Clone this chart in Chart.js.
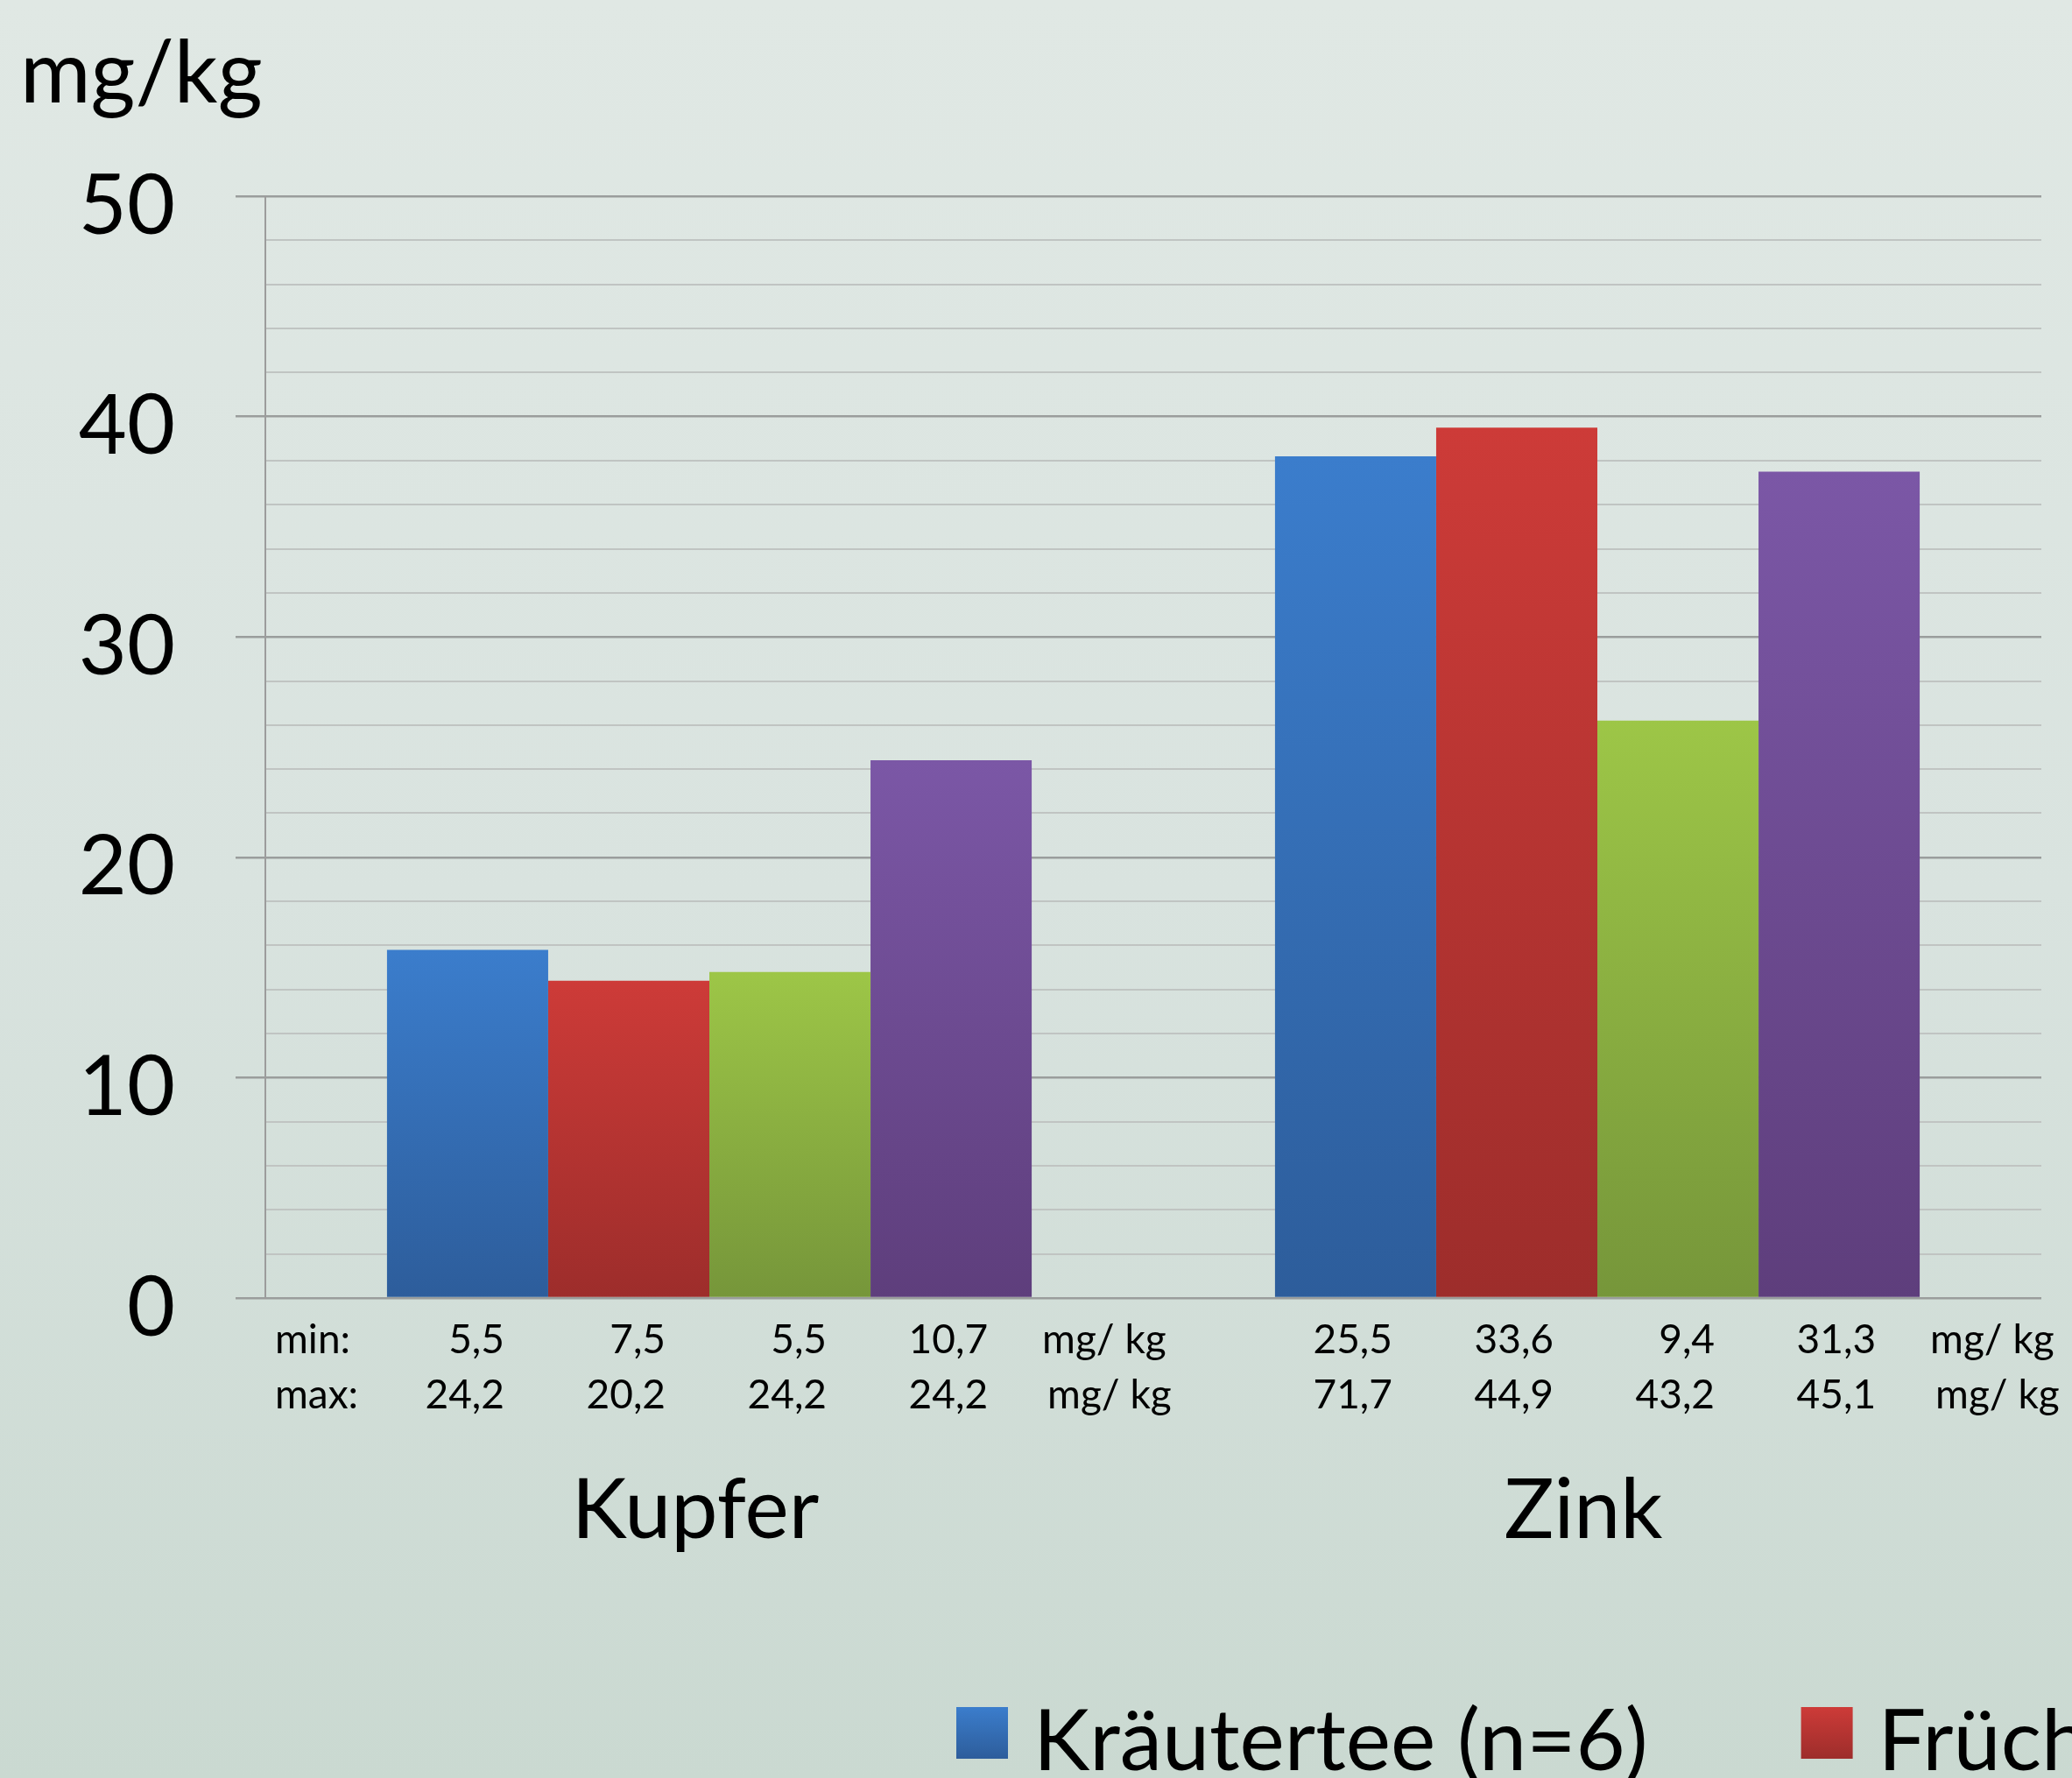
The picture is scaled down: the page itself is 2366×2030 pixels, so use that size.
<!DOCTYPE html>
<html lang="de">
<head>
<meta charset="UTF-8" />
<title>Kupfer und Zink in Tee</title>
<style>
  html, body { margin: 0; padding: 0; }
  body {
    width: 2366px; height: 2030px; overflow: hidden;
    background: linear-gradient(to bottom, #e0e8e4 0%, #d9e3df 50%, #cad9d1 100%);
  }
  canvas { display: block; }
</style>
</head>
<body>
<canvas id="teaChart" width="2366" height="2030"></canvas>

<script src="https://cdn.jsdelivr.net/npm/chart.js"></script>
<script>
  // Data
  const categories = ['Kupfer', 'Zink'];
  const seriesNames = ['Kräutertee (n=6)', 'Früchtetee (n=6)', 'Grüner Tee (n=6)', 'Schwarzer Tee (n=6)'];
  const kraeutertee = [15.8, 38.2];
  const fruechtetee = [14.4, 39.5];
  const gruenerTee = [14.8, 26.2];
  const schwarzerTee = [24.4, 37.5];
  const minValues = [[5.5, 25.5], [7.5, 33.6], [5.5, 9.4], [10.7, 31.3]];
  const maxValues = [[24.2, 71.7], [20.2, 44.9], [24.2, 43.2], [24.2, 45.1]];
  const unitLabel = 'mg/ kg';
  const axisTitle = 'mg/kg';

  const barTop = ['#3b7dcc', '#cd3b38', '#9dc647', '#7b57a6'];
  const barBottom = ['#2d5d9b', '#9d2d2b', '#76963a', '#5e3e7c'];

  Chart.defaults.font.family = 'Lato, "Open Sans", sans-serif';
  Chart.defaults.color = '#000';

  const fmt = v => v.toFixed(1).replace('.', ',');

  function barFill(i) {
    return ctx => {
      const chart = ctx.chart;
      if (!chart.chartArea || ctx.type !== 'data') return barTop[i];
      const y = chart.scales.y;
      const top = y.getPixelForValue(ctx.raw);
      const bottom = y.getPixelForValue(0);
      const g = chart.ctx.createLinearGradient(0, top, 0, bottom);
      g.addColorStop(0, barTop[i]);
      g.addColorStop(1, barBottom[i]);
      return g;
    };
  }

  // min / max rows, axis title and the (cropped) legend
  const extras = {
    id: 'extras',
    afterDraw(chart) {
      const c = chart.ctx;
      c.save();
      c.fillStyle = '#000';

      c.font = '98px Lato';
      c.textAlign = 'left';
      c.textBaseline = 'alphabetic';
      c.fillText(axisTitle, 23, 117);

      c.font = '46px Lato';
      c.fillText('min:', 314, 1545);
      c.fillText('max:', 314, 1608);
      chart.data.datasets.forEach((ds, i) => {
        const meta = chart.getDatasetMeta(i);
        meta.data.forEach((bar, j) => {
          const right = bar.x + bar.width / 2;
          c.textAlign = 'right';
          c.fillText(fmt(minValues[i][j]), right - 50, 1545);
          c.fillText(fmt(maxValues[i][j]), right - 50, 1608);
          if (i === chart.data.datasets.length - 1) {
            c.textAlign = 'left';
            c.fillText(unitLabel, right + 12, 1545);
            c.fillText(unitLabel, right + 18, 1608);
          }
        });
      });

      // legend row
      c.font = '97px Lato';
      c.textAlign = 'left';
      let x = 1092;
      chart.data.datasets.forEach((ds, i) => {
        const g = c.createLinearGradient(0, 1949, 0, 2008);
        g.addColorStop(0, barTop[i]);
        g.addColorStop(1, barBottom[i]);
        c.fillStyle = g;
        c.fillRect(x, 1949, 59, 59);
        c.fillStyle = '#000';
        c.fillText(ds.label, x + 88, 2021);
        x += 88 + c.measureText(ds.label).width + 175;
      });
      c.restore();
    }
  };

  const isMajor = v => v % 10 === 0;

  new Chart(document.getElementById('teaChart'), {
    type: 'bar',
    data: {
      labels: categories,
      datasets: [kraeutertee, fruechtetee, gruenerTee, schwarzerTee].map((vals, i) => ({
        label: seriesNames[i],
        data: vals,
        backgroundColor: barFill(i),
        borderWidth: 0,
        barPercentage: 1,
        categoryPercentage: 0.726
      }))
    },
    options: {
      responsive: false,
      animation: false,
      layout: { padding: { top: 224, right: 35, left: 0, bottom: 0 } },
      plugins: {
        legend: { display: false },
        tooltip: { enabled: false }
      },
      scales: {
        x: {
          afterFit(scale) { scale.height = 548; },
          grid: { display: false, drawTicks: false },
          border: { display: false },
          ticks: { padding: 186, labelOffset: -16, font: { size: 95 }, color: '#000' }
        },
        y: {
          min: 0,
          max: 50,
          afterFit(scale) { scale.width = 303; },
          border: { display: true, color: '#9c9c9c', width: 2 },
          grid: {
            color: c => isMajor(c.tick.value) ? '#9a9d9c' : '#c0c4c2',
            lineWidth: c => isMajor(c.tick.value) ? 2.5 : 2,
            tickColor: c => isMajor(c.tick.value) ? '#9a9d9c' : 'rgba(0,0,0,0)',
            tickLength: 34
          },
          ticks: {
            stepSize: 2,
            autoSkip: false,
            padding: 69,
            labelOffset: 12,
            color: '#000',
            font: { size: 95 },
            callback: v => isMajor(v) ? v : ''
          }
        }
      }
    },
    plugins: [extras]
  });
</script>
</body>
</html>
